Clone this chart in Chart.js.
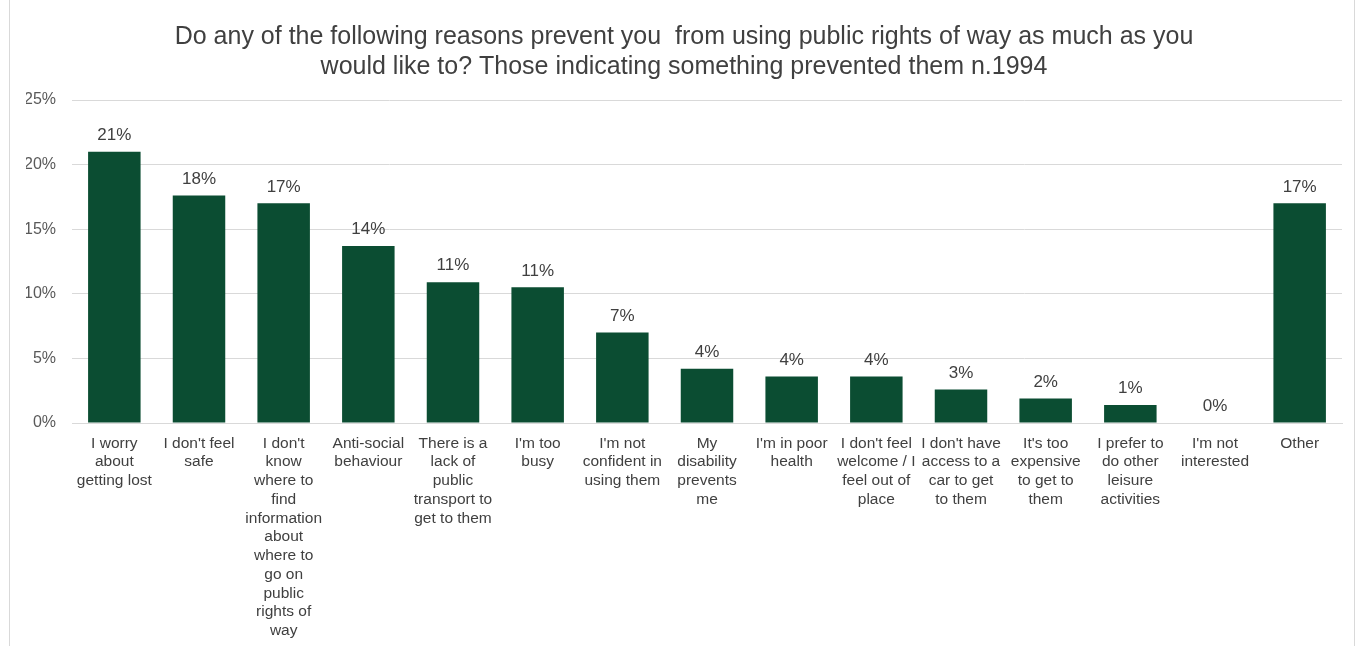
<!DOCTYPE html>
<html>
<head>
<meta charset="utf-8">
<script src="https://cdn.jsdelivr.net/npm/chart.js@4.4.0/dist/chart.umd.min.js"></script>
<style>
  html, body { margin: 0; padding: 0; background: #fff; overflow: hidden; }
  #wrap { position: relative; width: 1363px; height: 646px; }
  #frame { position: absolute; left: 9px; top: -2px; width: 1346px; height: 660px; border: 1px solid #d9d9d9; box-sizing: border-box; }
  canvas { position: absolute; left: 0; top: 0; }
</style>
</head>
<body>
<div id="wrap">
  <div id="frame"></div>
  <canvas id="chart" width="1363" height="646"></canvas>
</div>
<script>
// title lines
const titleLines = [
    "Do any of the following reasons prevent you  from using public rights of way as much as you",
    "would like to? Those indicating something prevented them n.1994"
];

// categories (each one split into its wrapped lines)
const categories = [
    ["I worry", "about", "getting lost"],
    ["I don't feel", "safe"],
    ["I don't", "know", "where to", "find", "information", "about", "where to", "go on", "public", "rights of", "way"],
    ["Anti-social", "behaviour"],
    ["There is a", "lack of", "public", "transport to", "get to them"],
    ["I'm too", "busy"],
    ["I'm not", "confident in", "using them"],
    ["My", "disability", "prevents", "me"],
    ["I'm in poor", "health"],
    ["I don't feel", "welcome / I", "feel out of", "place"],
    ["I don't have", "access to a", "car to get", "to them"],
    ["It's too", "expensive", "to get to", "them"],
    ["I prefer to", "do other", "leisure", "activities"],
    ["I'm not", "interested"],
    ["Other"]
];

// share of respondents (fraction)
const shares = [0.210, 0.176, 0.170, 0.137, 0.109, 0.105, 0.070, 0.042, 0.036, 0.036, 0.026, 0.019, 0.014, 0.000, 0.170];

const barColor = "#0b4d32";
const fontFam = "'Liberation Sans', Arial, sans-serif";

// draws the % labels above each bar
const valueLabels = {
    id: "valueLabels",
    afterDatasetsDraw(chart) {
        const ctx = chart.ctx;
        const meta = chart.getDatasetMeta(0);
        ctx.save();
        ctx.font = "17px " + fontFam;
        ctx.fillStyle = "#404040";
        ctx.textAlign = "center";
        ctx.textBaseline = "bottom";
        meta.data.forEach((bar, i) => {
            const txt = Math.round(shares[i] * 100) + "%";
            ctx.fillText(txt, bar.x, bar.y - 8);
        });
        ctx.restore();
    }
};

const ctx = document.getElementById("chart");
new Chart(ctx, {
    type: "bar",
    data: {
        labels: categories,
        datasets: [{
            data: shares,
            backgroundColor: barColor,
            borderWidth: 0,
            barPercentage: 0.62,
            categoryPercentage: 1.0
        }]
    },
    options: {
        responsive: false,
        animation: false,
        layout: { padding: { left: 26, right: 21, top: 4, bottom: 0 } },
        plugins: {
            legend: { display: false },
            tooltip: { enabled: false },
            title: {
                display: true,
                text: titleLines,
                color: "#404040",
                font: { family: fontFam, size: 25, weight: "normal", lineHeight: 1.2 },
                padding: { top: 18, bottom: 18 }
            }
        },
        scales: {
            x: {
                grid: { display: false, drawTicks: false },
                border: { display: true, color: "#d9d9d9" },
                afterFit: scale => { scale.height = 223; },
                ticks: {
                    color: "#404040",
                    maxRotation: 0,
                    autoSkip: false,
                    padding: 11,
                    font: { family: fontFam, size: 15.5, lineHeight: 1.21 }
                }
            },
            y: {
                min: 0,
                max: 0.25,
                grid: { color: "#d9d9d9", drawTicks: false },
                border: { display: false },
                afterFit: scale => { scale.width = 46; },
                ticks: {
                    stepSize: 0.05,
                    color: "#595959",
                    padding: 16,
                    font: { family: fontFam, size: 16 },
                    callback: v => Math.round(v * 100) + "%"
                }
            }
        }
    },
    plugins: [valueLabels]
});
</script>
</body>
</html>
